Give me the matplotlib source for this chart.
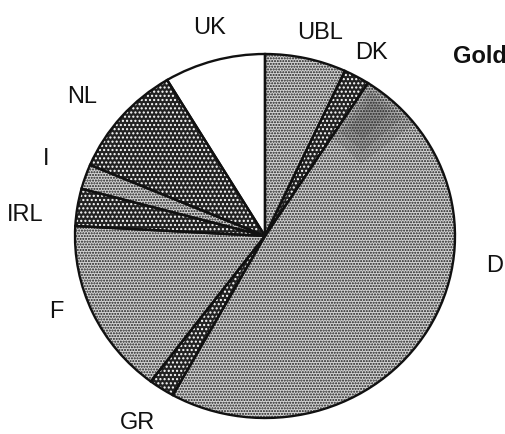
import matplotlib
matplotlib.use("Agg")
import matplotlib.pyplot as plt
from matplotlib.patches import Wedge

# shares of the basket (percent), clockwise from 12 o'clock
countries = ["UBL", "DK", "D", "GR", "F", "IRL", "I", "NL", "UK"]
shares = [6.9, 2.2, 48.9, 2.2, 15.6, 3.3, 2.2, 10.0, 8.6]
gold_share = 5.3  # part of the D slice shown as gold (next to DK)

# pattern per slice: light stipple, dark stipple, or blank
pattern = ["light", "dark", "light", "dark", "light", "dark", "light", "dark", "blank"]

# label spots in pie units (radius 1)
label_xy = {
    "UK": (-0.29, 1.15), "UBL": (0.29, 1.12), "DK": (0.56, 1.01),
    "D": (1.21, -0.16), "F": (-1.10, -0.41), "GR": (-0.67, -1.02),
    "IRL": (-1.26, 0.12), "I": (-1.15, 0.43), "NL": (-0.96, 0.77),
}

plt.rcParams["font.family"] = ["Liberation Sans", "DejaVu Sans"]
plt.rcParams["hatch.linewidth"] = 1.0

fig = plt.figure(figsize=(5.06, 4.35), dpi=100)
ax = fig.add_axes([0, 0, 1, 1])

faces = []
hatch_cols = []
hatches = []
for p in pattern:
    if p == "light":
        faces.append("#d4d4d4"); hatch_cols.append("#1a1a1a"); hatches.append("......")
    elif p == "dark":
        faces.append("#222222"); hatch_cols.append("white"); hatches.append("....")
    else:
        faces.append("white"); hatch_cols.append("white"); hatches.append(None)

# filled slices with patterns (no outline)
wedges, _ = ax.pie(shares, startangle=90, counterclock=False, colors=faces,
                   wedgeprops=dict(linewidth=0))
for w, h, hc in zip(wedges, hatches, hatch_cols):
    w.set_edgecolor(hc)
    w.set_linewidth(0)
    if h:
        w.set_hatch(h)

# gold smudge at the outer part of D
d = wedges[countries.index("D")]
frac = gold_share / shares[countries.index("D")]
span = d.theta2 - d.theta1
for k, a in enumerate([0.15, 0.15, 0.15]):
    ax.add_patch(Wedge((0, 0), 1.0 - 0.03 * k, d.theta2 - span * frac * (1 - 0.2 * k),
                       d.theta2 - 2 * k, width=0.36 - 0.08 * k,
                       facecolor="#333333", alpha=a, linewidth=0))

# outlines
ax.pie(shares, startangle=90, counterclock=False,
       wedgeprops=dict(facecolor="none", edgecolor="#111111", linewidth=1.7))

for c in countries:
    x, y = label_xy[c]
    ax.text(x, y, c, fontsize=17, ha="center", va="center", color="#111111")
ax.text(0.99, 0.99, "Gold", fontsize=17, fontweight="bold", ha="left", va="center",
        color="#111111")

ax.set_aspect("auto")
ax.set_xlim(-265 / 190, 241 / 190)
ax.set_ylim(-198 / 182, 237 / 182)
ax.axis("off")

fig.savefig("out.png", dpi=100)
